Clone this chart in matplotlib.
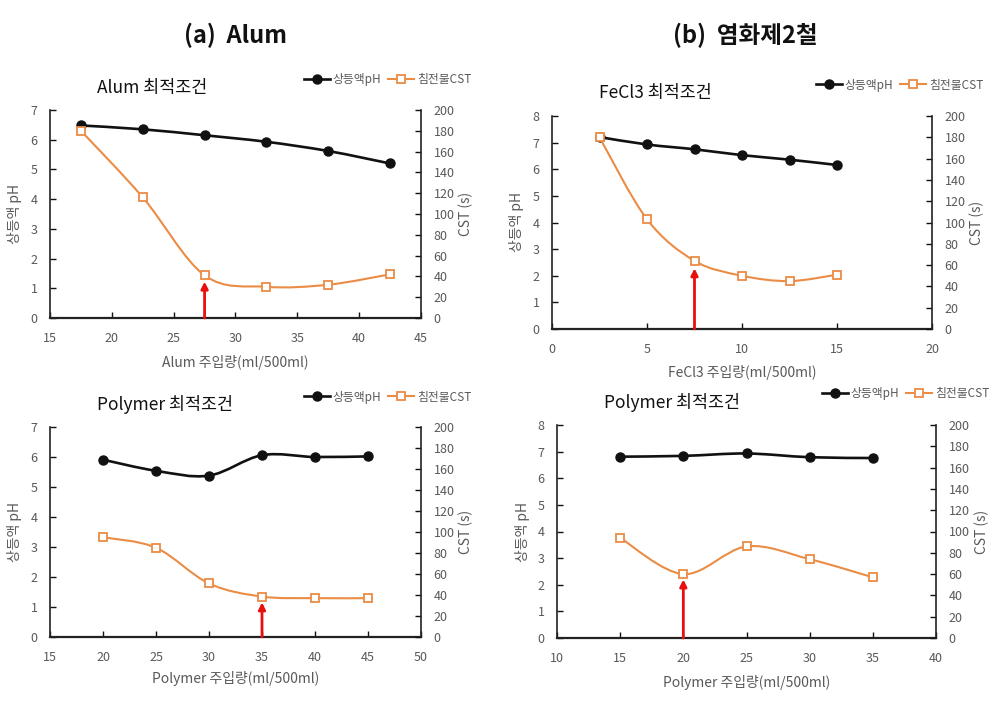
import numpy as np
import matplotlib
matplotlib.use("Agg")
import matplotlib.pyplot as plt
from matplotlib.path import Path
from matplotlib.patches import PathPatch
from matplotlib.lines import Line2D

plt.rcParams['font.family'] = ['Noto Sans CJK KR', 'DejaVu Sans']

# data
alum_x = [17.5, 22.5, 27.5, 32.5, 37.5, 42.5]
alum_ph = [6.48, 6.35, 6.15, 5.93, 5.62, 5.20]
alum_cst = [180, 116, 41, 30, 32, 42]

fecl3_x = [2.5, 5, 7.5, 10, 12.5, 15]
fecl3_ph = [7.21, 6.93, 6.75, 6.53, 6.36, 6.16]
fecl3_cst = [180, 103, 64, 50, 45, 51]

poly_a_x = [20, 25, 30, 35, 40, 45]
poly_a_ph = [5.91, 5.54, 5.38, 6.06, 6.00, 6.02]
poly_a_cst = [95, 85, 51, 38.5, 37, 37]

poly_b_x = [15, 20, 25, 30, 35]
poly_b_ph = [6.81, 6.84, 6.93, 6.79, 6.76]
poly_b_cst = [94, 60, 86, 74, 57]

# optimum dose (red arrow) and arrow tip height in CST units
optimum = [27.5, 7.5, 35, 20]
arrow_tip = [35, 57, 33, 55]

titles = ['Alum 최적조건', 'FeCl3 최적조건', 'Polymer 최적조건', 'Polymer 최적조건']
xlabels = ['Alum 주입량(ml/500ml)', 'FeCl3 주입량(ml/500ml)',
           'Polymer 주입량(ml/500ml)', 'Polymer 주입량(ml/500ml)']
xlims = [(15, 45), (0, 20), (15, 50), (10, 40)]
ph_max = [7, 8, 7, 8]

BLACK = '#111111'
ORANGE = '#EB8C45'
GRAY = '#595959'

W, H = 1001, 708


def smooth_path(x, y):
    # excel-style smoothed line drawn as bezier segments through the points
    pts = np.column_stack([x, y]).astype(float)
    n = len(pts)
    verts = [pts[0]]
    codes = [Path.MOVETO]
    for i in range(n - 1):
        p0 = pts[max(i - 1, 0)]
        p1 = pts[i]
        p2 = pts[i + 1]
        p3 = pts[min(i + 2, n - 1)]
        verts += [p1 + (p2 - p0) / 6, p2 - (p3 - p1) / 6, p2]
        codes += [Path.CURVE4] * 3
    return Path(verts, codes)


def box(l, t, r, b):
    return [l / W, 1 - b / H, (r - l) / W, (b - t) / H]


fig = plt.figure(figsize=(W / 100, H / 100), dpi=100)

# pixel boxes of each plot area (left, top, right, bottom)
boxes = [(50, 110, 421, 318), (552, 116, 932, 329),
         (50, 427, 421, 637), (557, 425, 936, 638)]
title_pos = [(97, 88), (599, 93), (97, 405), (604, 403)]
legend_pos = [(477, 80), (989, 85), (477, 397), (995, 394)]
ylab_x = [(15, 466), (517, 977), (15, 466), (522, 982)]
xlab_y = [362, 372, 678, 682]

datasets = [(alum_x, alum_ph, alum_cst), (fecl3_x, fecl3_ph, fecl3_cst),
            (poly_a_x, poly_a_ph, poly_a_cst), (poly_b_x, poly_b_ph, poly_b_cst)]

for k, (x, ph, cst) in enumerate(datasets):
    ax = fig.add_axes(box(*boxes[k]))
    ax2 = ax.twinx()

    ax.add_patch(PathPatch(smooth_path(x, ph), fill=False, edgecolor=BLACK, lw=1.9, zorder=3))
    ax.plot(x, ph, 'o', color=BLACK, ms=6.5, zorder=4)
    ax2.add_patch(PathPatch(smooth_path(x, cst), fill=False, edgecolor=ORANGE, lw=1.5, zorder=3))
    ax2.plot(x, cst, 's', mfc='white', mec=ORANGE, mew=1.3, ms=6, zorder=4)

    ax2.annotate('', xy=(optimum[k], arrow_tip[k]), xytext=(optimum[k], 0),
                 arrowprops=dict(arrowstyle='-|>', color='#E8100F', lw=2,
                                 mutation_scale=10, shrinkA=0, shrinkB=0),
                 zorder=5)

    ax.set_xlim(*xlims[k])
    ax.set_ylim(0, ph_max[k])
    ax.set_yticks(range(0, ph_max[k] + 1))
    ax2.set_ylim(0, 200)
    ax2.set_yticks(range(0, 201, 20))
    xs = xlims[k]
    ax.set_xticks(np.arange(xs[0], xs[1] + 1, 5))

    for a in (ax, ax2):
        a.spines['top'].set_visible(False)
        a.tick_params(direction='in', length=4, width=1, colors=BLACK,
                      labelcolor=GRAY, labelsize=9, pad=9)
        for s in ('left', 'right', 'bottom'):
            a.spines[s].set_color('#222222')
            a.spines[s].set_linewidth(1.2)
    ax.tick_params(axis='x', pad=10)
    ax.spines['right'].set_visible(False)
    ax2.spines['left'].set_visible(False)
    ax2.spines['bottom'].set_visible(False)
    ax.spines['bottom'].set_linewidth(1.6)

    l, t, r, b = boxes[k]
    fig.text(title_pos[k][0] / W, 1 - title_pos[k][1] / H, titles[k],
             fontsize=12.5, va='center', ha='left', color='#111111')
    fig.text(ylab_x[k][0] / W, 1 - (t + b) / 2 / H, '상등액 pH', rotation=90,
             fontsize=10, va='center', ha='center', color=GRAY)
    fig.text(ylab_x[k][1] / W, 1 - (t + b) / 2 / H, 'CST (s)', rotation=90,
             fontsize=10, va='center', ha='center', color=GRAY)
    fig.text((l + r) / 2 / W, 1 - xlab_y[k] / H, xlabels[k],
             fontsize=10, va='center', ha='center', color=GRAY)

    handles = [Line2D([], [], color=BLACK, lw=1.9, marker='o', ms=6.5),
               Line2D([], [], color=ORANGE, lw=1.5, marker='s', ms=6,
                      mfc='white', mec=ORANGE, mew=1.3)]
    fig.legend(handles, ['상등액pH', '침전물CST'], loc='center right',
               bbox_to_anchor=(legend_pos[k][0] / W, 1 - legend_pos[k][1] / H),
               frameon=False, fontsize=8.5, ncol=2, handlelength=2.2,
               handletextpad=0.2, columnspacing=0.6, borderpad=0,
               labelcolor=GRAY)

fig.text(235 / W, 1 - 35 / H, '(a)  Alum', fontsize=17, fontweight='bold',
         ha='center', va='center', color='#111111')
fig.text(745 / W, 1 - 35 / H, '(b)  염화제2철', fontsize=17, fontweight='bold',
         ha='center', va='center', color='#111111')

fig.savefig('out.png', dpi=100, facecolor='white')
